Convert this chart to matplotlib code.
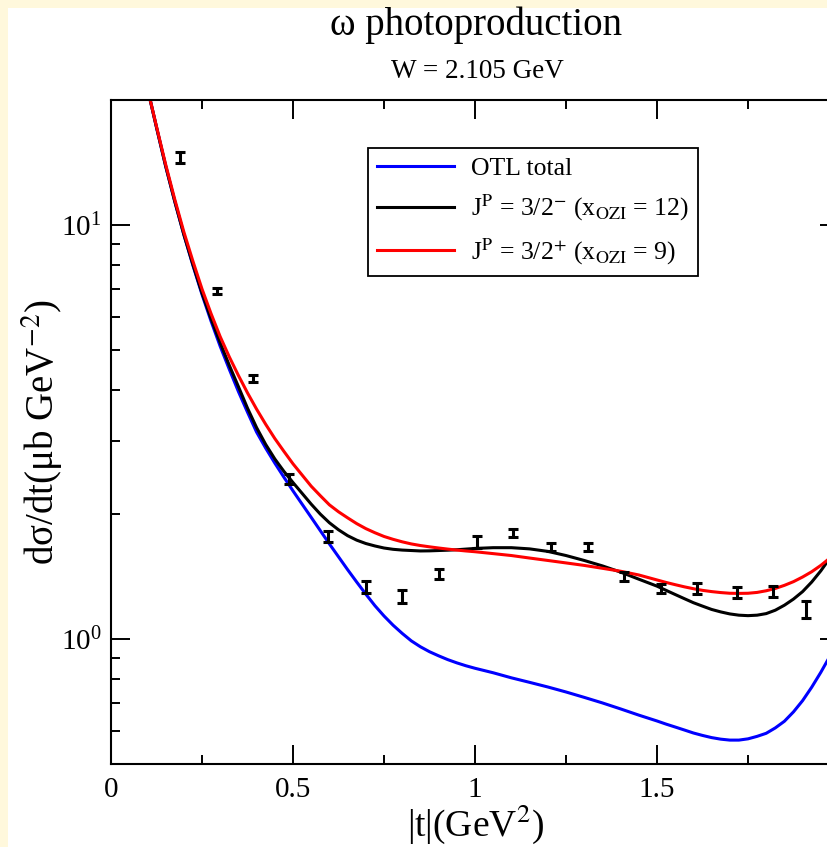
import matplotlib
matplotlib.use("Agg")
import matplotlib.pyplot as plt
from matplotlib import ticker
from matplotlib.patches import Rectangle

# |t| grid (GeV^2) shared by the three model curves
t_curve = [0.1, 0.125, 0.15, 0.175, 0.2, 0.225, 0.25, 0.275, 0.3, 0.325,
           0.35, 0.375, 0.4, 0.425, 0.45, 0.475, 0.5, 0.525, 0.55, 0.575,
           0.6, 0.625, 0.65, 0.675, 0.7, 0.725, 0.75, 0.775, 0.8, 0.825,
           0.85, 0.875, 0.9, 0.925, 0.95, 0.975, 1.0,
           1.05, 1.1, 1.15, 1.2, 1.25, 1.3, 1.35, 1.4, 1.45,
           1.5, 1.525, 1.55, 1.575, 1.6, 1.625, 1.65, 1.675, 1.7, 1.725,
           1.75, 1.775, 1.8, 1.825, 1.85, 1.875, 1.9, 1.925, 1.95, 1.975, 2.0]

otl_total = [21.38, 17.18, 13.87, 11.40, 9.48, 7.98, 6.79, 5.85, 5.09, 4.48,
             3.96, 3.53, 3.16, 2.891, 2.661, 2.460, 2.280, 2.118, 1.968, 1.828,
             1.698, 1.581, 1.472, 1.374, 1.285, 1.205, 1.138, 1.081, 1.033, 0.991,
             0.959, 0.933, 0.912, 0.893, 0.877, 0.863, 0.851,
             0.830, 0.807, 0.787, 0.767, 0.746, 0.724, 0.702, 0.679, 0.656,
             0.635, 0.624, 0.614, 0.604, 0.594, 0.586, 0.579, 0.574, 0.571, 0.571,
             0.575, 0.583, 0.593, 0.611, 0.634, 0.668, 0.711, 0.766, 0.832, 0.910, 1.0]

jp_minus = [21.38, 17.18, 13.87, 11.40, 9.48, 8.02, 6.84, 5.93, 5.19, 4.58,
            4.07, 3.61, 3.24, 2.951, 2.723, 2.541, 2.388, 2.249, 2.118, 2.004,
            1.910, 1.837, 1.778, 1.734, 1.702, 1.679, 1.660, 1.648, 1.641, 1.637,
            1.633, 1.634, 1.637, 1.640, 1.644, 1.650, 1.656,
            1.663, 1.663, 1.652, 1.629, 1.592, 1.549, 1.503, 1.452, 1.396,
            1.343, 1.312, 1.282, 1.253, 1.225, 1.202, 1.180, 1.164, 1.151, 1.143,
            1.140, 1.143, 1.153, 1.175, 1.208, 1.250, 1.303, 1.374, 1.462, 1.570, 1.698]

jp_plus = [21.38, 17.26, 14.00, 11.53, 9.62, 8.17, 7.00, 6.10, 5.37, 4.80,
           4.33, 3.93, 3.59, 3.30, 3.05, 2.84, 2.65, 2.49, 2.34, 2.22,
           2.11, 2.03, 1.963, 1.901, 1.849, 1.807, 1.770, 1.742, 1.718, 1.698,
           1.683, 1.671, 1.660, 1.650, 1.641, 1.633, 1.626,
           1.609, 1.592, 1.570, 1.549, 1.528, 1.507, 1.483, 1.459, 1.429,
           1.390, 1.371, 1.354, 1.338, 1.324, 1.312, 1.303, 1.296, 1.291, 1.290,
           1.291, 1.297, 1.309, 1.326, 1.349, 1.377, 1.413, 1.455, 1.507, 1.570, 1.641]

# measured points
t_data = [0.19, 0.29, 0.39, 0.49, 0.595, 0.70, 0.80, 0.90, 1.005, 1.105,
          1.21, 1.31, 1.41, 1.51, 1.61, 1.72, 1.82, 1.91]
dsdt = [14.56, 6.91, 4.25, 2.44, 1.77, 1.34, 1.27, 1.435, 1.716, 1.80,
        1.67, 1.67, 1.42, 1.325, 1.325, 1.30, 1.307, 1.18]
dsdt_err = [0.44, 0.11, 0.08, 0.07, 0.05, 0.045, 0.045, 0.04, 0.055, 0.04,
            0.04, 0.035, 0.035, 0.035, 0.04, 0.04, 0.04, 0.055]

xticks = [0, 0.5, 1, 1.5, 2]
xticklabels = ["0", "0.5", "1", "1.5", ""]

labels = ["OTL total",
          r"J$^{\mathrm{P}}$ = 3/2$^{-}$ (x$_{\mathrm{OZI}}$ = 12)",
          r"J$^{\mathrm{P}}$ = 3/2$^{+}$ (x$_{\mathrm{OZI}}$ = 9)"]

plt.rcParams.update({"font.family": "Liberation Serif",
                     "mathtext.fontset": "stix"})

W, H = 828, 847
fig = plt.figure(figsize=(W / 100, H / 100), dpi=100, facecolor="white")
fig.patches.append(Rectangle((0, 0), 8 / W, 1, transform=fig.transFigure,
                             facecolor="#fff8dc", edgecolor="none", zorder=-1))
fig.patches.append(Rectangle((0, 1 - 8 / H), 1, 8 / H, transform=fig.transFigure,
                             facecolor="#fff8dc", edgecolor="none", zorder=-1))

ax = fig.add_axes([111 / W, 1 - 764 / H, 728 / W, 664 / H])

ax.plot(t_curve, otl_total, color="#0000ff", lw=2.2, label=labels[0])
ax.plot(t_curve, jp_minus, color="black", lw=2.2, label=labels[1])
ax.plot(t_curve, jp_plus, color="#ff0000", lw=2.2, label=labels[2])
ax.errorbar(t_data, dsdt, yerr=dsdt_err, fmt="none", ecolor="black",
            elinewidth=2.2, capsize=3.5, capthick=2.2, zorder=5)

ax.set_yscale("log")
ax.set_xlim(0, 2)
ax.set_ylim(0.5, 20)

ax.xaxis.set_major_locator(ticker.FixedLocator(xticks))
ax.xaxis.set_major_formatter(ticker.FixedFormatter(xticklabels))
ax.xaxis.set_minor_locator(ticker.MultipleLocator(0.25))
ax.yaxis.set_minor_formatter(ticker.NullFormatter())

ax.tick_params(which="both", direction="in", top=True, right=True, width=1.4)
ax.tick_params(which="major", length=13.7, labelsize=21)
ax.tick_params(axis="x", which="major", pad=9)
ax.tick_params(axis="y", which="major", pad=7)
ax.tick_params(which="minor", length=6.5)
for s in ax.spines.values():
    s.set_linewidth(1.5)

fig.text(476 / W, 1 - 25 / H, "ω photoproduction", ha="center",
         va="center", fontsize=28)
fig.text(477 / W, 1 - 72 / H, "W = 2.105 GeV", ha="center", va="center",
         fontsize=19.5)
fig.text(476 / W, 1 - 824 / H, r"|t|(GeV$^{2}$)", ha="center", va="center",
         fontsize=27)
fig.text(42 / W, 1 - 432 / H, r"dσ/dt(μb GeV$^{-2}$)", ha="center",
         va="center", rotation=90, fontsize=28)

leg = ax.legend(loc="upper left", bbox_to_anchor=(368 / W, 1 - 148 / H),
                bbox_transform=fig.transFigure, fontsize=18.5, frameon=True,
                fancybox=False, framealpha=1, edgecolor="black",
                handlelength=3.0, handletextpad=0.65, labelspacing=0.5,
                borderpad=0.35, borderaxespad=0)
leg.get_frame().set_linewidth(1.3)
for line in leg.get_lines():
    line.set_linewidth(2.2)

fig.savefig("out.png", dpi=100, facecolor=fig.get_facecolor())
